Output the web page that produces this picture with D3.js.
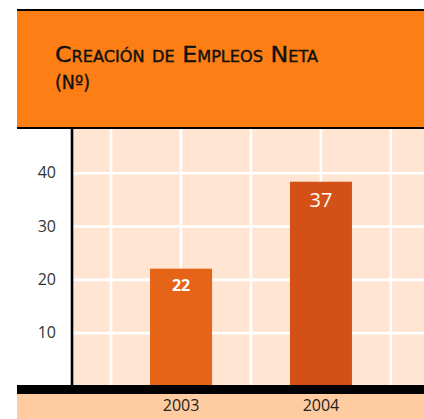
<!DOCTYPE html>
<html>
<head>
<meta charset="utf-8">
<script src="https://cdn.jsdelivr.net/npm/d3@7"></script>
<style>
  body { margin: 0; background: #fff; }
  svg { display: block; }
</style>
</head>
<body>
<div id="chart"></div>
<script>
const titleLines = ["Creación de Empleos Neta", "(Nº)"];
const years = ["2003", "2004"];
const barValues = [22, 38.3];      // bar heights as drawn
const barLabels = ["22", "37"];    // printed values
const yTicks = [10, 20, 30, 40];

const width = 424;
const height = 419;
const plot = { left: 72, right: 424, top: 129, bottom: 386 };
const titleFont = "'Liberation Sans Narrow', 'DejaVu Sans Condensed', 'Open Sans', sans-serif";

const svg = d3.select("#chart")
    .append("svg")
    .attr("width", width)
    .attr("height", height);

// header box
svg.append("rect")
    .attr("x", 17).attr("y", 9)
    .attr("width", width - 17).attr("height", 120)
    .attr("fill", "#FC7E14");
svg.append("rect")
    .attr("x", 17).attr("y", 9)
    .attr("width", width - 17).attr("height", 2)
    .attr("fill", "#000");
svg.append("rect")
    .attr("x", 17).attr("y", 127)
    .attr("width", width - 17).attr("height", 2)
    .attr("fill", "#000");

svg.append("text")
    .attr("x", 55).attr("y", 62)
    .attr("textLength", 263)
    .attr("lengthAdjust", "spacingAndGlyphs")
    .style("font-family", titleFont)
    .style("font-variant", "small-caps")
    .style("font-size", "22px")
    .style("stroke", "#111")
    .style("stroke-width", 0.35)
    .style("fill", "#111")
    .text(titleLines[0]);
svg.append("text")
    .attr("x", 55).attr("y", 89)
    .attr("textLength", 35)
    .attr("lengthAdjust", "spacingAndGlyphs")
    .style("font-family", titleFont)
    .style("font-size", "19px")
    .style("stroke", "#111")
    .style("stroke-width", 0.35)
    .style("fill", "#111")
    .text(titleLines[1]);

// plot background
svg.append("rect")
    .attr("x", plot.left).attr("y", plot.top)
    .attr("width", plot.right - plot.left).attr("height", plot.bottom - plot.top)
    .attr("fill", "#FFE5D2");

const x = d3.scaleBand()
    .domain(years)
    .range([111, 391])
    .paddingInner(0.557)
    .paddingOuter(0.279);

const y = d3.scaleLinear()
    .domain([0, 40])
    .range([plot.bottom, plot.bottom - 4 * 53.33]);

// vertical grid: band edges and centres
const step = x.step();
const x0 = x.range()[0];
const vLines = d3.range(0, years.length * 2 + 1).map(i => x0 + i * step / 2);
svg.append("g")
    .selectAll("line")
    .data(vLines)
    .join("line")
    .attr("x1", d => d).attr("x2", d => d)
    .attr("y1", plot.top).attr("y2", plot.bottom)
    .attr("stroke", "#fff")
    .attr("stroke-width", 2.6);

const yAxis = svg.append("g")
    .attr("transform", `translate(${plot.left},0)`)
    .call(d3.axisLeft(y).tickValues(yTicks).tickSize(-(plot.right - plot.left)).tickPadding(16));
yAxis.select(".domain").remove();
yAxis.selectAll(".tick line")
    .attr("stroke", "#fff")
    .attr("stroke-width", 2.6);
yAxis.selectAll(".tick text")
    .style("font-family", "'Open Sans', sans-serif")
    .style("font-size", "16px")
    .style("fill", "#333");

// bars
const barColors = ["#E66417", "#D35116"];
svg.append("g")
    .selectAll("rect")
    .data(years)
    .join("rect")
    .attr("x", d => x(d))
    .attr("width", x.bandwidth())
    .attr("y", (d, i) => y(barValues[i]))
    .attr("height", (d, i) => y(0) - y(barValues[i]))
    .attr("fill", (d, i) => barColors[i]);

const labelStyle = [
    { size: "16px", weight: "700", dy: 22 },
    { size: "20px", weight: "400", dy: 25 }
];
svg.append("g")
    .selectAll("text")
    .data(years)
    .join("text")
    .attr("x", d => x(d) + x.bandwidth() / 2)
    .attr("y", (d, i) => y(barValues[i]) + labelStyle[i].dy)
    .attr("text-anchor", "middle")
    .style("font-family", "'Open Sans', sans-serif")
    .style("font-size", (d, i) => labelStyle[i].size)
    .style("font-weight", (d, i) => labelStyle[i].weight)
    .style("fill", "#fff")
    .text((d, i) => barLabels[i]);

// left axis line
svg.append("rect")
    .attr("x", 70.7).attr("y", plot.top)
    .attr("width", 2.6).attr("height", plot.bottom - plot.top)
    .attr("fill", "#000");

// bottom band with year labels
svg.append("rect")
    .attr("x", 17).attr("y", 385)
    .attr("width", width - 17).attr("height", 9)
    .attr("fill", "#000");
svg.append("rect")
    .attr("x", 17).attr("y", 394)
    .attr("width", width - 17).attr("height", height - 394)
    .attr("fill", "#FFCBA0");

const xAxis = svg.append("g")
    .attr("transform", "translate(0,394)")
    .call(d3.axisBottom(x).tickSize(0).tickPadding(6));
xAxis.select(".domain").remove();
xAxis.selectAll(".tick text")
    .style("font-family", "'Open Sans', sans-serif")
    .style("font-size", "16px")
    .style("fill", "#222");
</script>
</body>
</html>
